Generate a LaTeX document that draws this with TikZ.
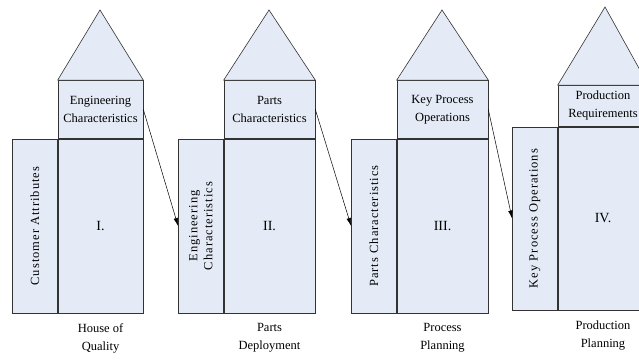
\documentclass[tikz,border=0pt]{standalone}
\usepackage{fontspec}
\setmainfont{Liberation Serif}
\usepackage{xcolor}
\usetikzlibrary{arrows.meta,positioning}
\definecolor{qfdfill}{RGB}{229,235,246}

\begin{document}
\begin{tikzpicture}[
    x=1pt, y=1pt,
    node distance=10pt,
    every node/.style={font=\fontsize{12.5}{18}\selectfont, inner sep=0pt, align=center},
    block/.style={draw=black!80, line width=0.6pt, fill=qfdfill},
    matrixbox/.style={block, font=\fontsize{14}{18}\selectfont},
    side/.style={block, rotate=90, anchor=south, minimum height=45pt,
        font=\fontsize{12.5}{15}\selectfont\addfontfeatures{LetterSpace=8}},
    roof/.style={draw=black!80, line width=0.6pt, fill=qfdfill},
    flow/.style={-{Latex[length=8pt,width=4.5pt]}, line width=0.5pt}
]

% Frame
\useasboundingbox (0,0) rectangle (639,363);
\clip (0,0) rectangle (639,363);

% House of Quality
\node[matrixbox, minimum width=85pt, minimum height=174pt] (main1) at (100.5,137) {I.};
\node[block, minimum width=85pt, minimum height=58pt, above=0pt of main1] (top1) {Engineering\\Characteristics};
\node[side, minimum width=174pt] (col1) at (main1.west) {Customer Attributes};
\coordinate (apex1) at (100,353);
\draw[roof] (top1.north west) -- (apex1) -- (top1.north east) -- cycle;
\node[below=of main1] (cap1) {House of\\Quality};

% Parts Deployment
\node[matrixbox, minimum width=91pt, minimum height=174pt] (main2) at (269.5,137) {II.};
\node[block, minimum width=91pt, minimum height=58pt, above=0pt of main2] (top2) {Parts\\Characteristics};
\node[side, minimum width=174pt] (col2) at (main2.west) {Engineering\\Characteristics};
\coordinate (apex2) at (269,353);
\draw[roof] (top2.north west) -- (apex2) -- (top2.north east) -- cycle;
\node[below=of main2] (cap2) {Parts\\Deployment};

% Process Planning
\node[matrixbox, minimum width=91pt, minimum height=174pt] (main3) at (442.5,137) {III.};
\node[block, minimum width=91pt, minimum height=58pt, above=0pt of main3] (top3) {Key Process\\Operations};
\node[side, minimum width=174pt] (col3) at (main3.west) {Parts Characteristics};
\coordinate (apex3) at (442,353);
\draw[roof] (top3.north west) -- (apex3) -- (top3.north east) -- cycle;
\node[below=of main3] (cap3) {Process\\Planning};

% Production Planning
\node[matrixbox, minimum width=90pt, minimum height=183pt] (main4) at (603,144.5) {IV.};
\node[block, minimum width=90pt, minimum height=41pt, above=0pt of main4] (top4) {Production\\Requirements};
\node[side, minimum width=183pt] (col4) at (main4.west) {Key Process Operations};
\coordinate (apex4) at (605,356);
\draw[roof] (top4.north west) -- (apex4) -- (top4.north east) -- cycle;
\node[below=of main4] (cap4) {Production\\Planning};

% Connections
\draw[flow] (top1.east) -- (col2.north);
\draw[flow] (top2.east) -- (col3.north);
\draw[flow] (top3.east) -- (col4.north);

\end{tikzpicture}
\end{document}
